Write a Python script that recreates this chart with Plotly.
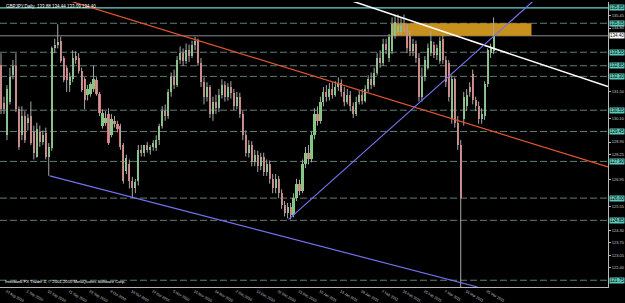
import plotly.graph_objects as go

# ---------------- data (GBPJPY daily) ----------------
opens = [132.90,130.90,129.25,131.00,132.35,132.85,130.60,129.25,130.25,129.90,
         130.25,129.40,128.15,129.40,128.90,129.35,128.15,128.60,133.75,133.90,
         134.15,133.25,132.75,131.85,132.15,133.35,133.25,132.60,132.15,131.35,
         131.40,131.65,132.10,131.40,129.75,129.90,130.35,129.25,130.00,129.85,
         129.75,128.75,127.40,127.75,126.90,126.50,126.90,128.50,128.35,128.75,
         128.50,128.65,128.60,129.00,129.75,130.50,130.25,131.50,132.25,131.85,
         133.15,133.50,133.10,133.65,133.35,133.90,134.15,133.00,132.00,131.25,
         131.75,130.35,131.00,130.65,131.35,131.85,131.25,131.75,131.45,130.75,
         131.25,130.35,129.25,128.35,128.75,127.85,128.25,127.65,128.15,127.35,
         127.75,127.00,126.50,127.00,126.25,125.65,125.25,125.55,125.15,126.00,
         126.75,126.35,127.75,128.35,128.00,129.25,130.35,130.00,131.00,131.50,
         131.25,131.65,131.35,131.75,131.95,131.50,131.00,131.35,130.75,130.35,
         131.00,131.35,131.05,131.65,132.15,131.85,132.50,133.25,133.00,134.00,
         133.25,133.60,134.40,134.60,134.60,134.90,134.75,134.40,133.60,134.00,
         133.25,131.25,132.25,132.75,133.50,133.90,133.40,133.10,134.25,133.15,
         133.00,130.10,132.15,129.90,128.75,130.10,130.75,131.75,132.40,131.10,
         130.75,130.10,130.25,131.90,133.50,133.60]
highs = [133.50,131.25,131.85,132.75,133.15,133.50,130.75,130.75,130.50,130.35,
         131.00,129.75,129.90,129.75,129.50,129.65,128.85,133.85,134.25,135.00,
         134.35,133.35,132.85,132.50,133.65,133.60,133.50,132.75,132.25,131.85,
         132.00,132.85,132.25,131.50,130.60,130.50,130.65,130.35,130.25,130.00,
         129.85,128.85,128.25,128.00,127.10,127.00,128.75,128.75,128.75,128.90,
         128.75,129.00,129.25,129.85,130.75,130.85,131.65,132.50,132.65,133.35,
         133.85,133.75,134.00,133.95,134.15,134.35,134.25,133.25,132.25,132.00,
         131.85,131.25,131.35,131.65,132.15,132.05,131.95,132.05,131.65,131.50,
         131.45,130.50,129.50,129.00,128.95,128.50,128.45,128.35,128.35,128.00,
         127.95,127.25,127.25,127.15,126.45,125.85,125.75,125.75,126.25,127.00,
         126.95,128.00,128.65,128.75,129.45,130.65,130.75,131.25,131.75,131.85,
         131.95,132.00,132.05,132.25,132.15,131.75,131.65,131.55,130.95,131.25,
         131.55,131.65,131.85,132.35,132.50,132.75,133.50,133.65,134.25,134.25,
         134.50,135.35,135.50,135.50,135.35,135.50,135.00,134.65,134.25,134.15,
         133.50,132.75,133.35,134.00,134.65,134.10,133.95,134.35,134.45,133.35,
         133.15,132.35,132.25,130.25,129.00,131.50,131.65,132.00,132.65,131.25,
         131.00,130.65,132.05,133.75,134.00,135.35]
lows = [130.35,130.35,129.00,130.85,132.15,130.45,128.50,129.00,128.85,129.50,
        128.75,128.00,128.10,128.65,128.75,128.00,127.15,128.45,133.50,133.75,
        133.00,132.00,131.50,131.50,132.00,132.95,132.45,131.50,130.60,131.05,
        131.25,131.50,131.30,130.25,129.60,129.75,128.75,129.15,129.65,129.40,
        128.50,126.75,127.25,126.50,126.00,126.25,126.65,128.15,128.15,128.35,
        128.25,128.45,128.45,128.75,129.60,130.00,130.10,131.25,131.65,131.75,
        132.95,132.85,132.95,133.05,133.25,133.65,132.85,131.75,130.85,131.00,
        130.15,130.00,130.35,130.45,131.15,131.00,131.05,131.15,130.55,130.60,
        130.15,129.00,128.15,128.10,127.65,127.65,127.35,127.45,127.15,127.15,
        126.75,126.25,126.25,126.00,125.45,125.05,124.95,124.90,125.00,125.85,
        126.15,126.25,127.55,127.75,127.85,129.05,129.75,129.85,130.75,131.00,
        131.05,131.15,131.25,131.55,131.25,130.75,130.85,130.50,130.15,130.25,
        130.85,130.85,130.95,131.50,131.65,131.75,132.35,132.75,132.85,133.45,
        133.05,133.45,134.25,134.45,134.45,134.60,133.50,133.35,133.35,133.00,
        131.00,131.00,132.05,132.65,133.35,133.25,133.15,132.95,132.95,131.75,
        131.00,129.85,129.65,128.50,120.75,129.75,130.50,131.25,130.85,130.50,
        129.85,129.85,130.05,131.75,133.25,133.45]
closes = [130.60,130.60,131.65,132.25,132.85,130.60,128.65,130.25,129.00,130.15,
          128.85,128.35,129.60,128.90,129.25,128.15,128.65,133.75,133.90,134.10,
          133.10,132.10,132.10,132.25,133.25,133.15,132.60,131.60,131.10,131.65,
          131.90,132.15,131.40,130.40,130.40,130.15,128.85,130.10,129.85,129.60,
          128.65,126.90,128.10,126.90,126.50,126.85,128.50,128.35,128.75,128.50,
          128.65,128.85,129.00,129.75,130.50,130.25,131.50,132.25,131.85,133.15,
          133.50,133.10,133.65,133.35,133.90,134.15,133.00,132.00,131.25,131.75,
          130.35,131.00,130.65,131.35,131.85,131.25,131.75,131.45,130.75,131.25,
          130.35,129.25,128.35,128.75,127.85,128.25,127.65,128.15,127.35,127.75,
          127.00,126.50,127.00,126.25,125.65,125.25,125.55,125.15,126.00,126.75,
          126.35,127.75,128.35,128.00,129.25,130.35,130.00,131.00,131.50,131.25,
          131.65,131.35,131.75,131.95,131.50,131.00,131.35,130.75,130.35,131.00,
          131.35,131.05,131.65,132.15,131.85,132.50,133.25,133.00,134.00,133.65,
          134.35,135.00,135.10,134.90,134.90,134.75,133.75,133.60,134.00,133.25,
          131.25,132.25,133.15,133.75,134.15,133.40,133.75,134.15,133.15,132.00,
          131.25,132.15,129.90,128.75,126.00,131.25,131.35,131.50,131.10,130.75,
          130.10,130.35,131.90,133.65,133.75,134.40]

date_tick_pos = [0, 7, 14, 21, 28, 35, 42, 49, 56, 63, 70, 77, 84, 91, 98, 105,
                 112, 119, 126, 133, 140, 147, 154, 161]
date_tick_text = ["23 Aug 2010", "1 Sep 2010", "10 Sep 2010", "21 Sep 2010", "29 Sep 2010",
                  "8 Oct 2010", "18 Oct 2010", "27 Oct 2010", "5 Nov 2010", "16 Nov 2010",
                  "24 Nov 2010", "3 Dec 2010", "13 Dec 2010", "22 Dec 2010", "31 Dec 2010",
                  "10 Jan 2011", "19 Jan 2011", "28 Jan 2011", "7 Feb 2011", "16 Feb 2011",
                  "25 Feb 2011", "7 Mar 2011", "16 Mar 2011", "25 Mar 2011"]

price_ticks = [122.40, 123.05, 123.70, 124.30, 125.55, 126.95, 128.25,
               128.90, 130.10, 131.50, 134.80, 135.45]

level_top = 135.85                      # solid teal line
levels_dashed = [135.05, 133.55, 132.85, 132.30, 130.55, 129.45, 127.90, 126.00, 124.85, 121.75]
bid_price = 134.40

zone = dict(i0=131.3, i1=177.7, p_low=134.40, p_high=135.05)

red_line = dict(i=[0, 203.33], p=[137.30, 127.62])
white_line = dict(i=[116.67, 203.33], p=[136.25, 131.77])
blue_up = dict(i=[96.33, 178.67], p=[124.90, 136.25])
blue_down = dict(i=[16.33, 159.67], p=[127.15, 121.40])

title_text = "GBPJPY,Daily  133.88 134.44 133.09 134.40"
copyright_text = "Interbank FX Trader 4, \u00a9 2001-2010 MetaQuotes Software Corp."

# ---------------- figure ----------------
n = len(closes)
idx = list(range(n))
FONT = "Liberation Sans, Arial, sans-serif"

fig = go.Figure()

for lv in levels_dashed:
    fig.add_shape(type="line", xref="paper", x0=0, x1=1, yref="y", y0=lv, y1=lv,
                  line=dict(color="#5f7f74", width=1, dash="7px,3px"), layer="below")
fig.add_shape(type="line", xref="paper", x0=0, x1=1, yref="y", y0=level_top, y1=level_top,
              line=dict(color="#6cd8c8", width=1.2), layer="below")
fig.add_shape(type="line", xref="paper", x0=0, x1=1, yref="y", y0=bid_price, y1=bid_price,
              line=dict(color="#8a8a8a", width=1), layer="below")

fig.add_shape(type="rect", xref="x", yref="y", x0=zone["i0"], x1=zone["i1"],
              y0=zone["p_low"], y1=zone["p_high"], fillcolor="#c8901c",
              line=dict(width=0), layer="below")

wx, wy = [], []
for i in idx:
    wx += [i, i, None]
    wy += [lows[i], highs[i], None]
fig.add_trace(go.Scatter(x=wx, y=wy, mode="lines", line=dict(color="#a8a8a8", width=1),
                         hoverinfo="skip", showlegend=False))

for up, col in ((True, "#72d872"), (False, "#e87070")):
    xs, base, hgt = [], [], []
    for i in idx:
        if (closes[i] >= opens[i]) == up:
            xs.append(i)
            base.append(min(opens[i], closes[i]))
            hgt.append(max(abs(closes[i] - opens[i]), 0.04))
    fig.add_trace(go.Bar(x=xs, y=hgt, base=base, width=0.72, marker=dict(color=col, line=dict(width=0)),
                         showlegend=False, hoverinfo="skip"))

for ln, col, w in ((red_line, "#e4572e", 1.2), (white_line, "#ffffff", 1.5),
                   (blue_up, "#7272ee", 1.2), (blue_down, "#7272ee", 1.2)):
    fig.add_trace(go.Scatter(x=ln["i"], y=ln["p"], mode="lines", line=dict(color=col, width=w),
                             hoverinfo="skip", showlegend=False))

for lv in levels_dashed + [level_top]:
    fig.add_annotation(xref="paper", x=1, xanchor="left", xshift=1, yref="y", y=lv,
                       text=f"{lv:.2f}", showarrow=False, bgcolor="#5cc8b8",
                       font=dict(family=FONT, size=4.5, color="#000000"), borderpad=0)
fig.add_annotation(xref="paper", x=1, xanchor="left", xshift=1, yref="y", y=bid_price,
                   text=f"{bid_price:.2f}", showarrow=False, bgcolor="#ffffff",
                   font=dict(family=FONT, size=4.5, color="#000000"), borderpad=0)

fig.add_annotation(xref="paper", yref="paper", x=0, y=1, xanchor="left", yanchor="top",
                   xshift=4, yshift=0, text=title_text, showarrow=False,
                   font=dict(family=FONT, size=4.5, color="#ffffff"))
fig.add_annotation(xref="paper", yref="paper", x=0, y=0, xanchor="left", yanchor="bottom",
                   xshift=3, yshift=1, text=copyright_text, showarrow=False,
                   font=dict(family=FONT, size=4.2, color="#ffffff"))

fig.update_layout(
    width=625, height=303, margin=dict(l=0, r=14, t=2, b=6),
    paper_bgcolor="#000000", plot_bgcolor="#000000", barmode="overlay",
    bargap=0, showlegend=False,
    xaxis=dict(range=[-1/3, 203.33], showgrid=False, zeroline=False,
               tickvals=[p + 1.8 for p in date_tick_pos], ticktext=date_tick_text,
               tickfont=dict(family=FONT, size=3.6, color="#c8c8c8"), ticks="",
               showline=True, linecolor="#b8b8b8", linewidth=1, fixedrange=True),
    yaxis=dict(range=[121.40, 136.15], side="right", showgrid=False, zeroline=False,
               tickvals=price_ticks, ticktext=[f"{v:.2f}" for v in price_ticks],
               tickfont=dict(family=FONT, size=4, color="#c8c8c8"),
               ticks="outside", ticklen=2, tickcolor="#b8b8b8",
               showline=True, linecolor="#b8b8b8", linewidth=1, fixedrange=True),
)

fig.write_html("out.html")
